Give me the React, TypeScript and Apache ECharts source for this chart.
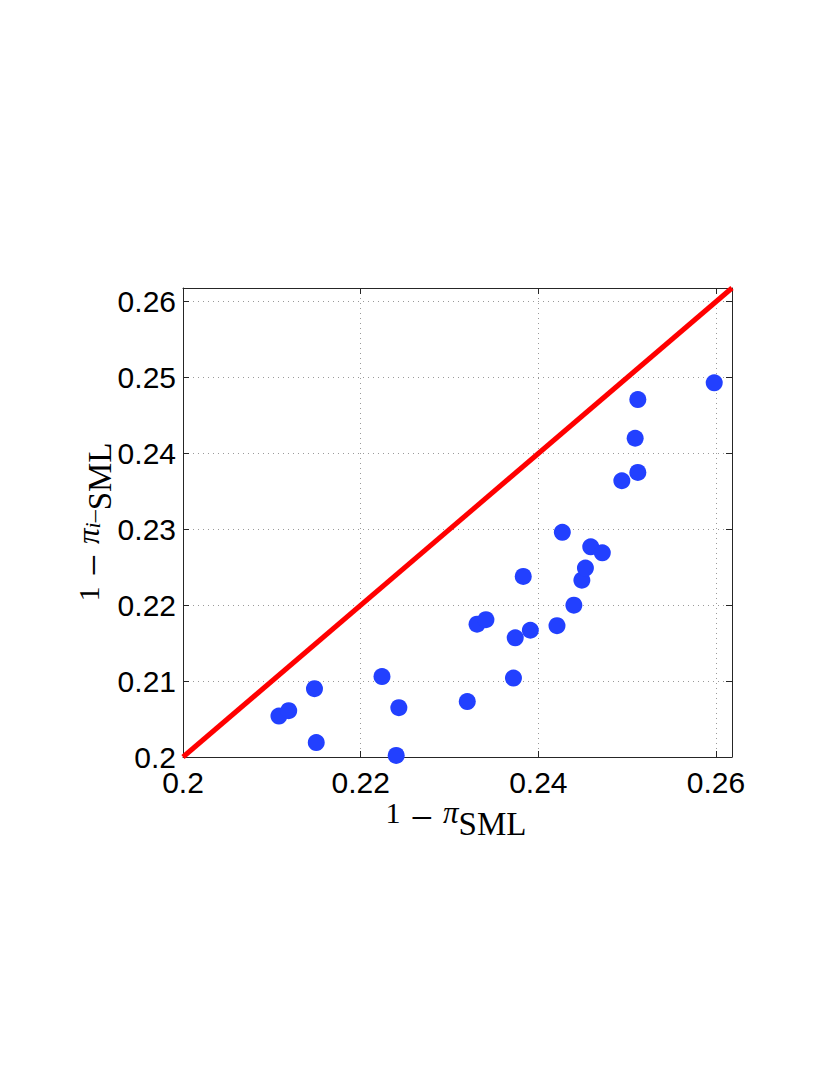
import React, { useEffect, useRef } from "react";
import * as echarts from "echarts";

const xValues = [
  0.2108, 0.2119, 0.2148, 0.2150, 0.2224, 0.2243, 0.2240, 0.2320, 0.2331, 0.2341,
  0.2374, 0.2372, 0.2383, 0.2391, 0.2421, 0.2427, 0.2440, 0.2449, 0.2453, 0.2459,
  0.2472, 0.2494, 0.2509, 0.2512, 0.2512, 0.2598,
];
const yValues = [
  0.2054, 0.2061, 0.2090, 0.2019, 0.2106, 0.2065, 0.2002, 0.2073, 0.2175, 0.2181,
  0.2157, 0.2104, 0.2238, 0.2167, 0.2173, 0.2296, 0.2200, 0.2233, 0.2249, 0.2277,
  0.2269, 0.2364, 0.2420, 0.2471, 0.2375, 0.2493,
];
const axisMin = 0.2;
const axisMax = 0.2618;
const xTickStep = 0.02;
const yTickStep = 0.01;
const diagonal = [
  [axisMin, axisMin],
  [axisMax, axisMax],
];

const fmt = (step: number) => (v: number) => {
  const k = (v - axisMin) / step;
  if (Math.abs(k - Math.round(k)) > 1e-6) return "";
  return String(parseFloat(v.toFixed(3)));
};

export default function App() {
  const ref = useRef<HTMLDivElement>(null);
  useEffect(() => {
    if (!ref.current) return;
    const chart = echarts.init(ref.current, null, { renderer: "svg" });
    const tickLabel = {
      fontFamily: "Liberation Sans, Arial, sans-serif",
      fontSize: 30,
      color: "#000",
    };
    const axisLine = { show: true, lineStyle: { color: "#262626", width: 1 } };
    const axisTick = { show: true, inside: true, length: 6, lineStyle: { color: "#262626" } };
    const splitLine = { show: true, lineStyle: { color: "#9a9a9a", type: [1, 4] as any, width: 1 } };
    const serif = "Liberation Serif, serif";
    const titleRich = {
      n: { fontFamily: serif, fontSize: 30, color: "#000", lineHeight: 34, verticalAlign: "top" as const },
      m: { fontFamily: serif, fontSize: 40, color: "#000", lineHeight: 34, verticalAlign: "top" as const },
      p: { fontFamily: serif, fontStyle: "italic" as const, fontSize: 31, color: "#000", lineHeight: 34, verticalAlign: "top" as const },
      s: { fontFamily: serif, fontSize: 33, color: "#000", lineHeight: 34, padding: [10, 0, 0, 0], verticalAlign: "top" as const },
      si: { fontFamily: serif, fontStyle: "italic" as const, fontSize: 22, color: "#000", lineHeight: 34, padding: [8, 0, 0, 0], verticalAlign: "top" as const },
      sd: { fontFamily: serif, fontSize: 24, color: "#000", lineHeight: 34, padding: [8, 0, 0, 0], verticalAlign: "top" as const },
    };
    chart.setOption({
      animation: false,
      grid: { left: 183, top: 288, width: 549, height: 469, containLabel: false },
      xAxis: [
        {
          type: "value",
          min: axisMin,
          max: axisMax,
          interval: xTickStep,
          axisLine,
          axisTick,
          splitLine,
          axisLabel: { ...tickLabel, margin: 10, formatter: fmt(xTickStep), showMaxLabel: false },
        },
        {
          type: "value",
          position: "top",
          min: axisMin,
          max: axisMax,
          interval: xTickStep,
          axisLine,
          axisTick,
          splitLine: { show: false },
          axisLabel: { show: false },
        },
      ],
      yAxis: [
        {
          type: "value",
          min: axisMin,
          max: axisMax,
          interval: yTickStep,
          axisLine,
          axisTick,
          splitLine,
          axisLabel: { ...tickLabel, margin: 7, formatter: fmt(yTickStep), showMaxLabel: false },
        },
        {
          type: "value",
          position: "right",
          min: axisMin,
          max: axisMax,
          interval: yTickStep,
          axisLine,
          axisTick,
          splitLine: { show: false },
          axisLabel: { show: false },
        },
      ],
      series: [
        {
          type: "line",
          data: diagonal,
          symbol: "none",
          lineStyle: { color: "#ff0000", width: 5 },
          z: 2,
        },
        {
          type: "scatter",
          data: xValues.map((x, i) => [x, yValues[i]]),
          symbol: "circle",
          symbolSize: 17,
          itemStyle: { color: "#2240ff", opacity: 1 },
          z: 3,
        },
      ],
      graphic: [
        {
          type: "text",
          x: 456,
          y: 814,
          style: {
            text: "{n|1\u2004}{m|−}{n|\u2004}{p|π}{s|SML}",
            rich: titleRich,
            align: "center",
            verticalAlign: "middle",
          },
        },
        {
          type: "text",
          x: 90,
          y: 522,
          rotation: Math.PI / 2,
          style: {
            text: "{n|1\u2004}{m|−}{n|\u2004}{p|π}{si|i}{sd|–}{s|SML}",
            rich: titleRich,
            align: "center",
            verticalAlign: "middle",
          },
        },
      ],
    });
    return () => chart.dispose();
  }, []);
  return (
    <div
      ref={ref}
      style={{ position: "absolute", left: 0, top: 0, width: 830, height: 1075, background: "#fff" }}
    />
  );
}
